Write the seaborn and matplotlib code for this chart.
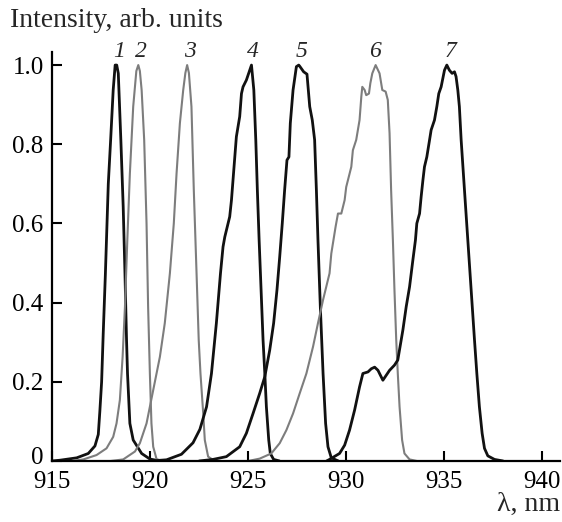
import matplotlib
matplotlib.use("Agg")
import matplotlib.pyplot as plt
import matplotlib.transforms as mtransforms
import seaborn as sns

# spectra: wavelength (nm) and normalised intensity
c1_x = [915.0, 915.41, 916.26, 916.85, 917.19, 917.36, 917.44, 917.53, 917.61, 917.72, 917.87, 917.99, 918.12, 918.22,
        918.30, 918.38, 918.51, 918.63, 918.72, 918.80, 918.85, 918.97, 919.14, 919.57, 919.99, 920.5]
c1_y = [0.0, 0.002, 0.008, 0.019, 0.038, 0.067, 0.126, 0.2, 0.32, 0.47, 0.70, 0.811, 0.937, 1.0,
        1.0, 0.979, 0.811, 0.642, 0.474, 0.306, 0.221, 0.095, 0.053, 0.019, 0.005, 0.0]

c2_x = [916.0, 916.60, 917.27, 917.78, 918.12, 918.29, 918.46, 918.60, 918.72, 918.84, 918.97, 919.14, 919.30, 919.40,
        919.48, 919.57, 919.70, 919.82, 919.90, 919.99, 920.07, 920.16, 920.33, 920.6]
c2_y = [0.0, 0.004, 0.015, 0.032, 0.061, 0.095, 0.154, 0.263, 0.390, 0.558, 0.726, 0.895, 0.985, 1.0,
        0.985, 0.937, 0.811, 0.600, 0.390, 0.221, 0.095, 0.036, 0.005, 0.0]

c3_x = [918.0, 918.63, 919.23, 919.48, 919.82, 920.16, 920.50, 920.75, 921.01, 921.21, 921.35, 921.52, 921.69, 921.80,
        921.89, 921.98, 922.11, 922.23, 922.37, 922.48, 922.57, 922.71, 922.79, 922.96, 923.3]
c3_y = [0.0, 0.004, 0.024, 0.045, 0.095, 0.179, 0.263, 0.348, 0.474, 0.600, 0.726, 0.853, 0.937, 0.98,
        1.0, 0.98, 0.895, 0.684, 0.474, 0.306, 0.221, 0.120, 0.053, 0.011, 0.0]

c4_x = [920.0, 920.84, 921.60, 922.19, 922.54, 922.88, 923.13, 923.38, 923.59, 923.72, 923.81, 924.06, 924.15, 924.32,
        924.40, 924.57, 924.66, 924.74, 924.91, 925.17, 925.29, 925.39, 925.47, 925.56, 925.66, 925.76, 925.85, 925.93,
        926.05, 926.13, 926.30, 926.6]
c4_y = [0.0, 0.003, 0.017, 0.046, 0.08, 0.137, 0.221, 0.348, 0.474, 0.541, 0.566, 0.617, 0.659, 0.768,
        0.819, 0.870, 0.928, 0.945, 0.962, 1.0, 0.937, 0.811, 0.684, 0.558, 0.432, 0.306, 0.221, 0.137,
        0.053, 0.019, 0.004, 0.0]

c5_x = [922.5, 923.21, 923.89, 924.57, 924.91, 925.25, 925.59, 925.85, 926.10, 926.30, 926.47, 926.61, 926.74, 926.86,
        926.98, 927.08, 927.15, 927.29, 927.46, 927.58, 927.63, 927.83, 928.00, 928.14, 928.27, 928.39, 928.48, 928.56,
        928.68, 928.82, 928.95, 929.07, 929.24, 929.6]
c5_y = [0.0, 0.004, 0.011, 0.036, 0.070, 0.120, 0.171, 0.213, 0.280, 0.348, 0.432, 0.516, 0.600, 0.684,
        0.760, 0.768, 0.853, 0.937, 0.996, 1.0, 0.997, 0.983, 0.977, 0.895, 0.861, 0.811, 0.684, 0.558,
        0.390, 0.221, 0.095, 0.036, 0.008, 0.0]

c6_x = [925.0, 925.59, 926.18, 926.61, 926.95, 927.29, 927.63, 927.97, 928.31, 928.56, 928.82, 929.15, 929.24, 929.46,
        929.58, 929.75, 929.92, 930.00, 930.26, 930.34, 930.51, 930.68, 930.77, 930.82, 930.94, 931.02, 931.16, 931.23,
        931.33, 931.50, 931.70, 931.84, 932.01, 932.12, 932.21, 932.29, 932.38, 932.46, 932.55, 932.63, 932.72, 932.85,
        932.97, 933.23, 933.6]
c6_y = [0.0, 0.006, 0.019, 0.045, 0.078, 0.120, 0.171, 0.221, 0.289, 0.348, 0.407, 0.474, 0.524, 0.592,
        0.625, 0.625, 0.659, 0.692, 0.743, 0.785, 0.811, 0.861, 0.920, 0.945, 0.937, 0.924, 0.928, 0.954,
        0.979, 1.0, 0.979, 0.937, 0.933, 0.912, 0.828, 0.684, 0.558, 0.432, 0.306, 0.221, 0.137, 0.053,
        0.019, 0.004, 0.0]

c7_x = [929.0, 929.15, 929.66, 929.92, 930.17, 930.43, 930.68, 930.85, 931.11, 931.28, 931.45, 931.62, 931.87, 932.21,
        932.46, 932.63, 932.89, 933.06, 933.23, 933.40, 933.53, 933.60, 933.74, 933.82, 933.91, 933.99, 934.11, 934.25,
        934.33, 934.50, 934.62, 934.72, 934.84, 935.01, 935.13, 935.26, 935.40, 935.52, 935.60, 935.69, 935.77, 935.86,
        936.03, 936.20, 936.37, 936.54, 936.66, 936.79, 936.93, 937.05, 937.22, 937.56, 938.0]
c7_y = [0.0, 0.004, 0.019, 0.040, 0.078, 0.129, 0.187, 0.221, 0.225, 0.233, 0.237, 0.229, 0.204, 0.229,
        0.242, 0.255, 0.331, 0.390, 0.440, 0.508, 0.558, 0.600, 0.625, 0.667, 0.709, 0.743, 0.768, 0.811,
        0.836, 0.861, 0.895, 0.928, 0.945, 0.987, 1.0, 0.987, 0.979, 0.983, 0.971, 0.937, 0.895, 0.811,
        0.684, 0.558, 0.432, 0.306, 0.221, 0.137, 0.070, 0.032, 0.013, 0.004, 0.0]

curves = [(c1_x, c1_y), (c2_x, c2_y), (c3_x, c3_y), (c4_x, c4_y), (c5_x, c5_y), (c6_x, c6_y), (c7_x, c7_y)]
curve_dark = [True, False, False, True, True, False, True]

peak_labels = ["1", "2", "3", "4", "5", "6", "7"]
peak_label_x = [918.40, 919.51, 922.03, 925.22, 927.70, 931.45, 935.32]

x_ticks = [915, 920, 925, 930, 935, 940]
y_ticks = [0, 0.2, 0.4, 0.6, 0.8, 1.0]
y_tick_labels = ["0", "0.2", "0.4", "0.6", "0.8", "1.0"]

sns.set_style("ticks")
plt.rcParams["font.family"] = ["Liberation Serif", "DejaVu Serif"]

fig = plt.figure(figsize=(5.62, 5.22), dpi=100)
ax = fig.add_axes([52 / 562, 1 - 461 / 522, (560 - 52) / 562, (461 - 52) / 522])

for (wl, inten), dark in zip(curves, curve_dark):
    sns.lineplot(x=wl, y=inten, ax=ax, color="#111111" if dark else "#7d7d7d",
                 linewidth=2.0 if dark else 1.5, estimator=None, sort=False)

for lab, xpos in zip(peak_labels, peak_label_x):
    ax.text(xpos, 1.02, lab, style="italic", ha="center", va="baseline", fontsize=17)

ax.set_xlim(915, 940.9)
ax.set_ylim(0, 1.033)
ax.set_xticks(x_ticks)
ax.set_yticks(y_ticks)
ax.set_yticklabels(y_tick_labels)
ax.tick_params(direction="in", length=7, width=1.5, labelsize=18, color="black", labelcolor="black")
ax.tick_params(axis="y", pad=6)
ax.tick_params(axis="x", pad=7)
sns.despine(ax=ax)
for s in ["left", "bottom"]:
    ax.spines[s].set_linewidth(1.6)
    ax.spines[s].set_color("black")

# the "0" sits a little above its tick in the original
zero_lab = ax.get_yticklabels()[0]
zero_lab.set_transform(zero_lab.get_transform() + mtransforms.ScaledTranslation(0, 0.06, fig.dpi_scale_trans))

fig.text(10 / 562, 1 - 27 / 522, "Intensity, arb. units", ha="left", va="baseline", fontsize=20)
fig.text(560 / 562, 1 - 511 / 522, "λ, nm", ha="right", va="baseline", fontsize=20)

fig.savefig("out.png", dpi=100)
